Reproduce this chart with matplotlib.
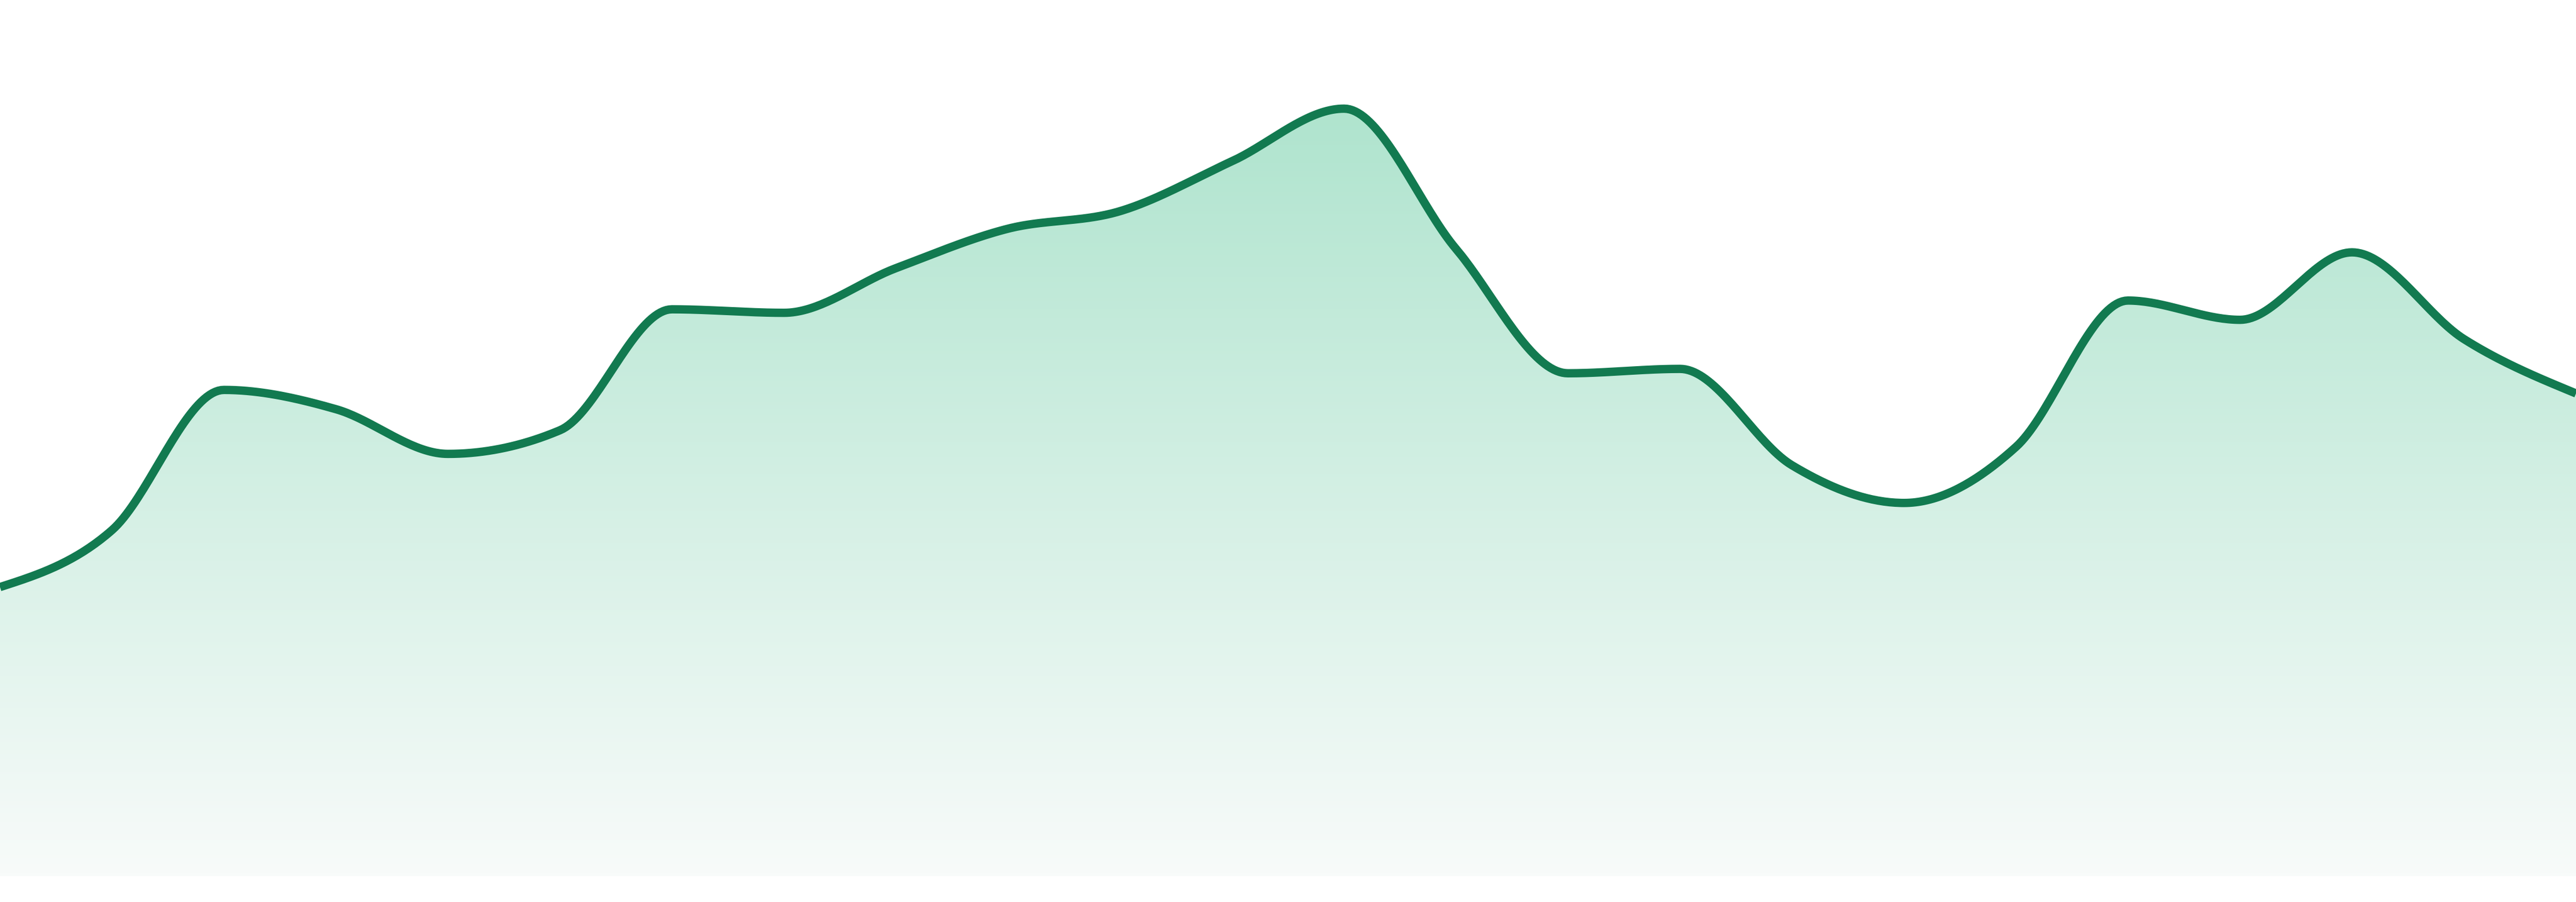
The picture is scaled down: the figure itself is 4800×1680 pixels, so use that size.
import numpy as np
import matplotlib
matplotlib.use("Agg")
import matplotlib.pyplot as plt
from matplotlib.colors import LinearSegmentedColormap

# values (0 = bottom of area, 100 = top of frame)
points = list(range(24))
values = [33.0, 39.5, 55.5, 53.3, 48.2, 50.9, 64.7, 64.3, 69.4, 73.9, 75.9, 81.6,
          87.6, 71.6, 57.4, 57.9, 46.9, 42.6, 49.0, 65.7, 63.5, 71.2, 61.3, 55.1]

line_color = "#127a50"
fill_top = "#afe4ce"
fill_bottom = "#f8fbfa"


def monotone_x(x, y, n=40):
    # same smoothing as d3.curveMonotoneX
    x = np.asarray(x, float)
    y = np.asarray(y, float)
    h = np.diff(x)
    s = np.diff(y) / h
    t = np.zeros(len(x))
    for i in range(1, len(x) - 1):
        p = (s[i - 1] * h[i] + s[i] * h[i - 1]) / (h[i - 1] + h[i])
        t[i] = (np.sign(s[i - 1]) + np.sign(s[i])) * min(abs(s[i - 1]), abs(s[i]), 0.5 * abs(p))
    t[0] = (3 * s[0] - t[1]) / 2
    t[-1] = (3 * s[-1] - t[-2]) / 2
    xs, ys = [], []
    u = np.linspace(0, 1, n)
    for i in range(len(x) - 1):
        dx = h[i] / 3
        px = [x[i], x[i] + dx, x[i + 1] - dx, x[i + 1]]
        py = [y[i], y[i] + dx * t[i], y[i + 1] - dx * t[i + 1], y[i + 1]]
        b = [(1 - u) ** 3, 3 * u * (1 - u) ** 2, 3 * u ** 2 * (1 - u), u ** 3]
        xs.append(sum(bb * c for bb, c in zip(b, px)))
        ys.append(sum(bb * c for bb, c in zip(b, py)))
    return np.concatenate(xs), np.concatenate(ys)


fig = plt.figure(figsize=(48, 16.8), dpi=100)
ax = fig.add_axes([0, 48 / 1680, 1, 1632 / 1680])
ax.set_xlim(0, len(points) - 1)
ax.set_ylim(0, 100)
ax.axis("off")

cx, cy = monotone_x(points, values)
area = ax.fill_between(cx, 0, cy, color="none", lw=0)

cmap = LinearSegmentedColormap.from_list("g", [fill_bottom, fill_top])
grad = np.linspace(0, 1, 256).reshape(-1, 1)
img = ax.imshow(grad, cmap=cmap, origin="lower", aspect="auto",
                extent=[0, len(points) - 1, 0, max(values)], zorder=1)
img.set_clip_path(area.get_paths()[0], transform=ax.transData)

ax.plot(cx, cy, color=line_color, lw=11.2, solid_capstyle="butt", zorder=3)

fig.savefig("out.png", dpi=100, facecolor="white")
